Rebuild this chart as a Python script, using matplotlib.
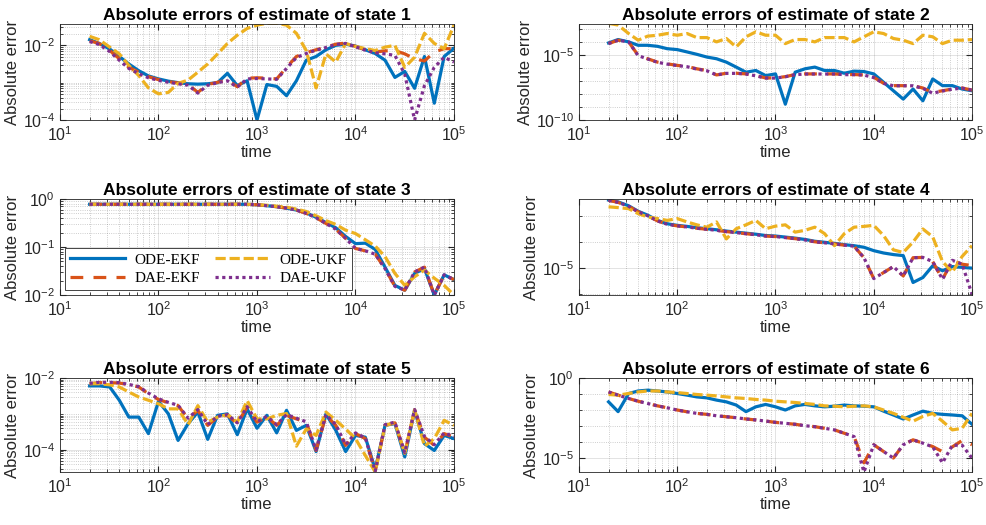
import numpy as np
import matplotlib.pyplot as plt
from matplotlib.ticker import FixedLocator, LogLocator, NullFormatter

plt.rcParams['font.family'] = ['Liberation Sans', 'DejaVu Sans']
plt.rcParams['mathtext.default'] = 'regular'

# sample times shared by all filters
t = [20, 25, 32, 40, 50, 63, 79, 100, 126, 158, 200, 251, 316, 398, 501, 631,
     794, 1000, 1259, 1585, 1995, 2512, 3162, 3981, 5012, 6310, 7943, 10000,
     12589, 15849, 19953, 25119, 31623, 39811, 50119, 63096, 79433, 100000]

labels = ['ODE-EKF', 'DAE-EKF', 'ODE-UKF', 'DAE-UKF']

# log10 of absolute error, one list per filter and state
s1_ode_ekf = [-1.85, -1.95, -2.1, -2.3, -2.5, -2.68, -2.82, -2.9, -2.96, -3.0, -3.03, -3.04, -3.03, -3.0,
              -2.75, -3.08, -2.95, -4.0, -3.05, -3.1, -3.35, -2.95, -2.4, -2.3, -2.12, -2.0, -1.97, -2.02,
              -2.12, -2.22, -2.4, -2.86, -2.7, -3.15, -2.3, -3.55, -2.3, -2.08]
s1_dae_ekf = [-1.88, -1.95, -2.14, -2.36, -2.59, -2.72, -2.84, -2.92, -2.97, -3.01, -3.05, -3.26, -3.05, -2.99,
              -2.93, -3.11, -2.88, -2.87, -2.88, -2.9, -2.59, -2.3, -2.2, -2.12, -2.05, -1.97, -1.94, -2.03,
              -2.12, -2.18, -2.15, -2.14, -2.23, -2.36, -2.42, -2.18, -2.09, -2.09]
s1_ode_ukf = [-1.76, -1.85, -2.05, -2.23, -2.54, -2.81, -3.14, -3.3, -3.26, -3.02, -2.93, -2.72, -2.5, -2.23,
              -1.95, -1.73, -1.55, -1.46, -1.41, -1.41, -1.46, -1.68, -2.14, -3.14, -2.23, -2.45, -1.95, -2.03,
              -2.09, -2.14, -2.05, -2.0, -2.59, -2.32, -1.68, -1.95, -2.09, -1.46]
s1_dae_ukf = [-1.9, -1.98, -2.17, -2.4, -2.62, -2.76, -2.87, -2.94, -2.99, -3.03, -3.07, -3.28, -3.07, -3.0,
              -2.95, -3.12, -2.9, -2.89, -2.9, -2.91, -2.62, -2.33, -2.22, -2.13, -2.06, -1.98, -1.95, -2.04,
              -2.13, -2.2, -2.23, -2.27, -2.77, -4.0, -3.08, -2.59, -2.32, -2.45]

s2_ode_ekf = [-4.10, -3.84, -4.02, -4.28, -4.28, -4.36, -4.54, -4.61, -4.79, -4.97, -5.18, -5.31, -5.57, -5.95,
              -6.34, -6.21, -6.60, -6.47, -8.79, -6.34, -6.08, -5.95, -6.21, -6.21, -6.42, -6.26, -6.29, -6.47,
              -7.11, -7.76, -8.40, -7.63, -8.53, -6.86, -7.37, -7.37, -7.63, -7.76]
s2_dae_ekf = [-4.15, -3.89, -4.02, -5.05, -5.31, -5.57, -5.70, -5.82, -5.90, -6.08, -6.21, -6.55, -6.42, -6.42,
              -6.47, -6.60, -6.78, -6.78, -6.68, -6.52, -6.47, -6.47, -6.47, -6.47, -6.52, -6.52, -6.55, -6.73,
              -7.19, -7.37, -7.37, -7.37, -7.55, -7.89, -7.76, -7.63, -7.55, -7.71]
s2_ode_ukf = [-2.60, -2.73, -3.38, -3.89, -3.58, -3.51, -3.38, -3.51, -3.38, -3.69, -3.69, -4.02, -3.76, -4.41,
              -3.63, -3.25, -3.51, -3.51, -4.15, -3.84, -3.84, -4.02, -3.69, -3.69, -3.69, -4.02, -3.63, -3.25,
              -3.38, -3.76, -3.89, -4.15, -3.51, -3.63, -4.15, -3.89, -3.89, -3.84]
s2_dae_ukf = [-4.15, -3.89, -4.02, -5.07, -5.33, -5.58, -5.72, -5.83, -5.92, -6.10, -6.23, -6.55, -6.43, -6.43,
              -6.48, -6.62, -6.79, -6.79, -6.69, -6.53, -6.48, -6.48, -6.48, -6.48, -6.53, -6.53, -6.56, -6.75,
              -7.20, -7.38, -7.38, -7.38, -7.58, -7.95, -7.78, -7.64, -7.56, -7.71]

s3_ode_ekf = [-0.11] * 17 + [-0.12, -0.14, -0.16, -0.19, -0.23, -0.29, -0.38, -0.49, -0.6, -0.78, -0.93,
                             -0.92, -1.05, -1.42, -1.8, -1.9, -1.55, -1.45, -2.0, -1.58, -1.68]
s3_dae_ekf = [-0.11] * 17 + [-0.12, -0.14, -0.16, -0.19, -0.23, -0.3, -0.39, -0.51, -0.63, -0.82, -1.03,
                             -1.08, -1.15, -1.45, -1.82, -1.9, -1.52, -1.42, -2.0, -1.58, -1.68]
s3_ode_ukf = [-0.11] * 17 + [-0.12, -0.13, -0.15, -0.17, -0.21, -0.26, -0.35, -0.45, -0.53, -0.65, -0.72,
                             -0.85, -0.98, -1.2, -1.55, -1.8, -1.62, -1.48, -1.65, -1.8, -2.0]
s3_dae_ukf = [-0.11] * 17 + [-0.12, -0.14, -0.16, -0.19, -0.23, -0.3, -0.39, -0.51, -0.63, -0.82, -1.03,
                             -1.08, -1.15, -1.45, -1.82, -1.9, -1.52, -1.42, -2.0, -1.58, -1.68]

s4_ode_ekf = [-2.39, -2.46, -2.61, -2.82, -2.97, -3.17, -3.30, -3.36, -3.40, -3.45, -3.49, -3.53, -3.58, -3.62,
              -3.66, -3.70, -3.75, -3.77, -3.81, -3.85, -3.90, -3.97, -4.01, -4.05, -4.10, -4.14, -4.20, -4.33,
              -4.42, -4.48, -4.52, -5.55, -5.36, -4.91, -5.10, -4.94, -4.97, -5.0]
s4_dae_ekf = [-2.40, -2.48, -2.63, -2.84, -2.99, -3.19, -3.32, -3.38, -3.42, -3.47, -3.51, -3.55, -3.60, -3.64,
              -3.68, -3.72, -3.77, -3.79, -3.83, -3.87, -3.92, -3.99, -4.03, -4.07, -4.12, -4.16, -4.6, -5.4,
              -5.17, -4.94, -5.3, -4.6, -4.59, -4.75, -5.43, -4.7, -4.85, -4.9]
s4_ode_ukf = [-2.65, -2.68, -2.72, -2.91, -3.04, -3.10, -3.17, -3.10, -3.23, -3.34, -3.43, -3.23, -3.88, -3.49,
              -3.34, -3.17, -3.49, -3.39, -3.34, -3.62, -3.55, -3.43, -3.68, -4.14, -3.68, -3.43, -3.40, -3.36,
              -3.75, -4.3, -4.4, -4.0, -3.5, -3.8, -4.75, -5.15, -4.55, -4.14]
s4_dae_ukf = [-2.40, -2.48, -2.63, -2.84, -2.99, -3.19, -3.32, -3.38, -3.42, -3.47, -3.51, -3.55, -3.60, -3.64,
              -3.68, -3.72, -3.77, -3.79, -3.83, -3.87, -3.92, -3.99, -4.03, -4.07, -4.12, -4.16, -4.6, -5.4,
              -5.17, -4.94, -5.3, -4.6, -4.59, -4.75, -5.43, -4.7, -4.85, -6.0]

s5_ode_ekf = [-2.22, -2.22, -2.25, -2.62, -3.09, -3.09, -3.55, -2.65, -3.0, -3.74, -3.27, -2.95, -3.71, -3.04,
              -3.0, -3.58, -2.86, -3.4, -3.04, -3.53, -2.9, -3.46, -3.32, -4.05, -3.0, -3.46, -4.05, -3.6,
              -3.65, -4.55, -3.32, -3.27, -4.2, -2.9, -3.83, -4.02, -3.6, -3.69]
s5_dae_ekf = [-2.16, -2.13, -2.13, -2.14, -2.19, -2.25, -2.44, -2.6, -2.69, -2.77, -3.14, -2.9, -3.32, -3.09,
              -3.04, -3.27, -2.81, -3.23, -3.09, -3.32, -3.04, -3.14, -3.23, -4.02, -3.04, -3.32, -3.88, -3.55,
              -3.69, -4.6, -3.32, -3.25, -4.1, -2.9, -3.65, -3.88, -3.55, -3.65]
s5_ode_ukf = [-2.16, -2.16, -2.19, -2.25, -2.39, -2.53, -2.62, -2.72, -2.86, -2.86, -3.3, -2.77, -3.23, -3.09,
              -3.02, -3.23, -2.63, -3.14, -3.14, -3.04, -2.99, -3.9, -3.42, -3.6, -2.95, -3.18, -3.42, -3.69,
              -4.16, -4.62, -3.32, -3.25, -4.1, -2.88, -3.9, -3.69, -3.18, -3.32]
s5_dae_ukf = [-2.15, -2.12, -2.12, -2.13, -2.18, -2.24, -2.42, -2.58, -2.68, -2.76, -3.12, -2.88, -3.3, -3.07,
              -3.02, -3.25, -2.8, -3.22, -3.07, -3.3, -3.02, -3.12, -3.22, -4.0, -3.02, -3.3, -3.86, -3.53,
              -3.67, -4.6, -3.3, -3.23, -4.08, -2.88, -3.63, -3.86, -3.53, -3.63]

s6_ode_ekf = [-1.49, -2.1, -0.97, -0.81, -0.76, -0.81, -0.87, -0.97, -1.07, -1.18, -1.24, -1.38, -1.49, -1.69,
              -2.1, -1.8, -1.65, -1.8, -2.0, -1.74, -1.65, -1.74, -1.8, -1.76, -1.69, -1.74, -1.76, -1.8,
              -2.07, -2.31, -2.56, -2.31, -2.07, -2.21, -2.27, -2.31, -2.36, -2.89]
s6_dae_ekf = [-0.87, -1.07, -1.28, -1.45, -1.59, -1.74, -1.86, -2.0, -2.11, -2.21, -2.27, -2.36, -2.42, -2.48,
              -2.56, -2.62, -2.69, -2.77, -2.83, -2.89, -2.98, -3.04, -3.14, -3.24, -3.45, -3.66, -5.3, -4.17,
              -4.59, -5.0, -4.17, -3.86, -4.07, -4.28, -4.6, -4.3, -3.9, -4.17]
s6_ode_ukf = [-1.03, -1.07, -0.97, -0.87, -0.81, -0.81, -0.87, -0.91, -0.97, -1.03, -1.07, -1.12, -1.18, -1.24,
              -1.28, -1.34, -1.38, -1.45, -1.49, -1.53, -1.59, -1.65, -1.74, -1.76, -1.80, -1.76, -1.74, -1.80,
              -2.0, -2.21, -2.45, -2.7, -2.4, -2.21, -2.7, -3.24, -3.14, -2.21]
s6_dae_ukf = [-0.87, -1.07, -1.28, -1.45, -1.59, -1.74, -1.86, -2.0, -2.11, -2.21, -2.27, -2.36, -2.42, -2.48,
              -2.56, -2.62, -2.69, -2.77, -2.83, -2.89, -2.98, -3.04, -3.14, -3.24, -3.45, -3.66, -5.87, -4.17,
              -4.59, -5.0, -4.17, -3.86, -4.07, -4.3, -5.3, -4.2, -4.2, -5.0]

states = [
    [s1_ode_ekf, s1_dae_ekf, s1_ode_ukf, s1_dae_ukf],
    [s2_ode_ekf, s2_dae_ekf, s2_ode_ukf, s2_dae_ukf],
    [s3_ode_ekf, s3_dae_ekf, s3_ode_ukf, s3_dae_ukf],
    [s4_ode_ekf, s4_dae_ekf, s4_ode_ukf, s4_dae_ukf],
    [s5_ode_ekf, s5_dae_ekf, s5_ode_ukf, s5_dae_ukf],
    [s6_ode_ekf, s6_dae_ekf, s6_ode_ukf, s6_dae_ukf],
]

# y limits (log10) of each panel
ylims = [(-4, -1.43), (-10, -2.65), (-2, 0), (-6.03, -2.35), (-4.62, -2), (-5.87, 0)]
# labelled decades of each panel, and whether the minor grid splits decades 2..9
ytick_exp = [[-4, -2], [-10, -5], [-2, -1, 0], [-5], [-4, -2], [-5, 0]]
fine_minor = [True, False, True, False, True, False]

colors = ['#0072BD', '#D95319', '#EDB120', '#7E2F8E']
dashes = [None, (4, 3.2), (3.2, 1.2), (1, 1.1)]

W, H = 987, 525
lefts = [60, 579]
tops = [24, 199, 378]
bottoms = [120, 295, 472]
widths = [394, 393]

fig = plt.figure(figsize=(W / 100, H / 100), dpi=100)
axc = '#262626'

for i, series in enumerate(states):
    row, col = divmod(i, 2)
    rect = [lefts[col] / W, 1 - bottoms[row] / H, widths[col] / W, (bottoms[row] - tops[row]) / H]
    ax = fig.add_axes(rect)
    ax.set_xscale('log')
    ax.set_yscale('log')
    for y, c, d, lab in zip(series, colors, dashes, labels):
        line, = ax.plot(t, 10.0 ** np.array(y), color=c, lw=2.3, label=lab)
        if d is not None:
            line.set_dashes(d)
    ax.set_xlim(10, 1e5)
    lo, hi = ylims[i]
    ax.set_ylim(10.0 ** lo, 10.0 ** hi)

    ax.xaxis.set_major_locator(LogLocator(base=10, numticks=10))
    ax.xaxis.set_minor_locator(LogLocator(base=10, subs=np.arange(2, 10), numticks=20))
    ax.xaxis.set_minor_formatter(NullFormatter())

    majors = ytick_exp[i]
    ax.yaxis.set_major_locator(FixedLocator([10.0 ** e for e in majors]))
    mults = range(1, 10) if fine_minor[i] else [1]
    minors = [m * 10.0 ** e for e in range(-12, 2) for m in mults
              if not (m == 1 and e in majors)]
    ax.yaxis.set_minor_locator(FixedLocator(minors))
    ax.yaxis.set_minor_formatter(NullFormatter())

    ax.grid(True, which='major', color=axc, alpha=0.15, lw=0.6)
    ax.grid(True, which='minor', color=axc, alpha=0.3, lw=0.6, linestyle=':')
    ax.tick_params(which='both', direction='in', top=True, right=True, color=axc,
                   labelcolor=axc, labelsize=11.5)
    ax.tick_params(which='major', length=4)
    ax.tick_params(which='minor', length=2)
    for sp in ax.spines.values():
        sp.set_color(axc)
        sp.set_linewidth(0.6)

    ax.set_title('Absolute errors of estimate of state %d' % (i + 1), fontsize=12.5,
                 fontweight='bold', pad=3)
    ax.set_xlabel('time', fontsize=12, color=axc, labelpad=1)
    ax.set_ylabel('Absolute error', fontsize=12, color=axc, labelpad=2)

    if i == 2:
        leg = ax.legend(loc='lower left', ncol=2, prop={'family': 'Liberation Serif', 'size': 11},
                        fancybox=False, framealpha=1, edgecolor=axc, borderaxespad=0.3,
                        handlelength=3.6, columnspacing=1.0, labelspacing=0.3,
                        borderpad=0.35, handletextpad=0.6)
        leg.get_frame().set_linewidth(0.6)

fig.savefig('out.png', dpi=100)
